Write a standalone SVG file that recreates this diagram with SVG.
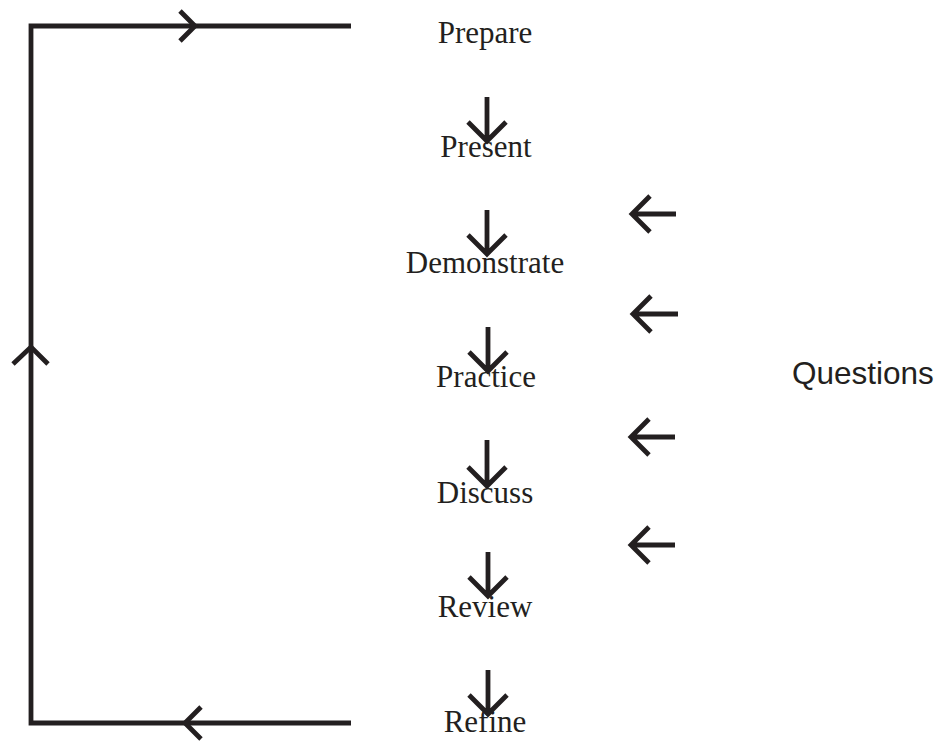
<svg xmlns="http://www.w3.org/2000/svg" width="941" height="742" viewBox="0 0 941 742">
<style>
.ln{stroke:#231f20;stroke-width:4.8;fill:none;stroke-linecap:butt;stroke-linejoin:miter}
.lbl{font-family:"Liberation Serif","Times New Roman",serif;font-size:31px;fill:#231f20;text-anchor:middle}
.q{font-family:"Liberation Sans",Arial,sans-serif;font-size:31.5px;fill:#231f20}
</style>
<rect width="941" height="742" fill="#fff"/>
<g id="connectors">
<path class="ln" d="M351,26 H31 V723 H351"/>
<path class="ln" d="M180,11 L195,26 L180,41"/>
<path class="ln" d="M201,707 L185,723 L201,739"/>
<path class="ln" d="M13,364 L31,347 L48,364"/>
<g id="down-arrows">
<path class="ln" d="M487,97 V140 M468,122 L487,141 L506,122"/>
<path class="ln" d="M487,210 V253 M468,235 L487,254 L506,235"/>
<path class="ln" d="M488,327 V370 M469,352 L488,371 L507,352"/>
<path class="ln" d="M487,440 V485 M468,467 L487,486 L506,467"/>
<path class="ln" d="M488,552 V595 M469,577 L488,596 L507,577"/>
<path class="ln" d="M488,670 V713 M469,695 L488,714 L507,695"/>
</g>
<g id="left-arrows">
<path class="ln" d="M676,214 H632 M650,196 L632,214 L650,232"/>
<path class="ln" d="M678,314 H633 M651,296 L633,314 L651,332"/>
<path class="ln" d="M675,437 H631 M649,419 L631,437 L649,455"/>
<path class="ln" d="M675,545 H631 M649,527 L631,545 L649,563"/>
</g>
</g>
<g id="prepare"><text class="lbl" x="485" y="43">Prepare</text></g>
<g id="present"><text class="lbl" x="486" y="157">Present</text></g>
<g id="demonstrate"><text class="lbl" x="485" y="273">Demonstrate</text></g>
<g id="practice"><text class="lbl" x="486" y="387">Practice</text></g>
<g id="discuss"><text class="lbl" x="485" y="503">Discuss</text></g>
<g id="review"><text class="lbl" x="485" y="617">Review</text></g>
<g id="refine"><text class="lbl" x="485" y="732">Refine</text></g>
<g id="questions"><text class="q" x="792" y="384">Questions</text></g>
</svg>
